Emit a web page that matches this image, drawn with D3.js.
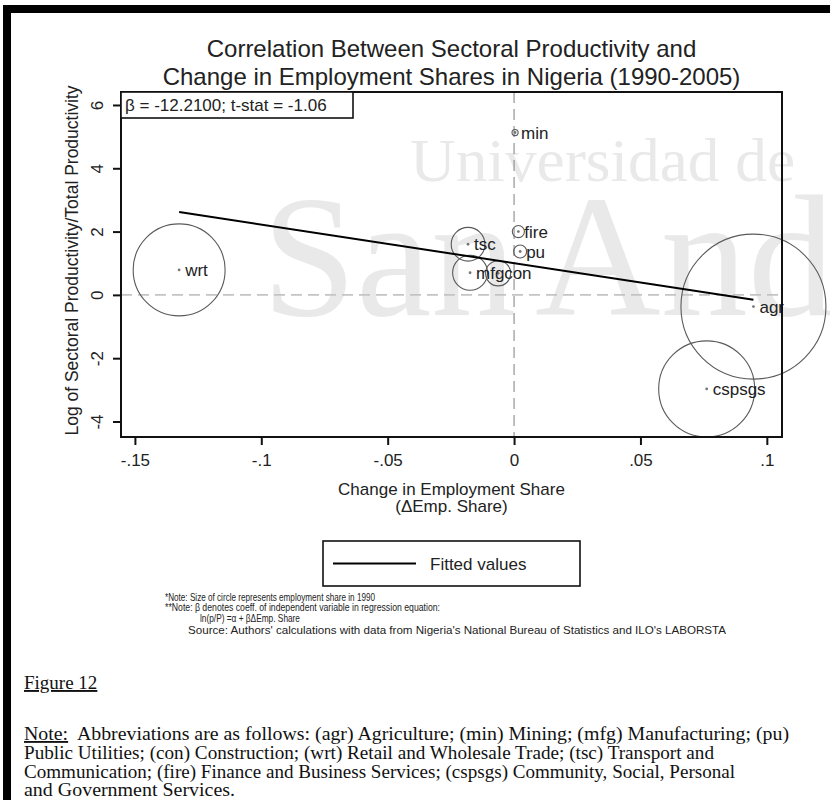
<!DOCTYPE html>
<html><head><meta charset="utf-8">
<script src="https://cdn.jsdelivr.net/npm/d3@7"></script>
<style>body{margin:0;background:#fff}svg{display:block}</style>
</head><body>
<script>
// ---- data ----
const sectors = ["agr","min","mfg","pu","con","wrt","tsc","fire","cspsgs"];
const empChange = [0.0947, 0.0004, -0.0174, 0.0024, -0.0063, -0.1325, -0.0182, 0.0017, 0.0762];
const logProd = [-0.37, 5.13, 0.70, 1.37, 0.68, 0.79, 1.60, 2.00, -2.97];
const empShare1990 = [0.500, 0.0009, 0.029, 0.004, 0.015, 0.201, 0.027, 0.0035, 0.219];
const fitX = [-0.1325, 0.0947];
const fitY = [2.62, -0.155];
const xTicks = [-0.15, -0.1, -0.05, 0, 0.05, 0.1];
const xTickLabels = ["-.15", "-.1", "-.05", "0", ".05", ".1"];
const yTicks = [-4, -2, 0, 2, 4, 6];
const yTickLabels = ["-4", "-2", "0", "2", "4", "6"];
const titleLines = ["Correlation Between Sectoral Productivity and", "Change in Employment Shares in Nigeria (1990-2005)"];
const statText = "β = -12.2100; t-stat = -1.06";
const xTitleLines = ["Change in Employment Share", "(ΔEmp. Share)"];
const yTitle = "Log of Sectoral Productivity/Total Productivity";
const legendLabel = "Fitted values";
const noteLines = [
  "*Note: Size of circle represents employment share in 1990",
  "**Note: β denotes coeff. of independent variable in regression equation:",
  "ln(p/P) =α + βΔEmp. Share",
  "Source: Authors' calculations with data from Nigeria's National Bureau of Statistics and ILO's LABORSTA"
];
const figureLabel = "Figure 12";
const bodyLines = [
  ["Note:", "  Abbreviations are as follows: (agr) Agriculture; (min) Mining; (mfg) Manufacturing; (pu)"],
  ["", "Public Utilities; (con) Construction; (wrt) Retail and Wholesale Trade; (tsc) Transport and"],
  ["", "Communication; (fire) Finance and Business Services; (cspsgs) Community, Social, Personal"],
  ["", "and Government Services."]
];
const watermark = ["Universidad de", "San", "Andrés"];

const data = sectors.map((s, i) => ({name: s, x: empChange[i], y: logProd[i], w: empShare1990[i]}));

const W = 830, H = 800;
const svg = d3.select("body").append("svg").attr("width", W).attr("height", H);
const SANS = "'Liberation Sans', Arial, sans-serif";
const SERIF = "'Liberation Serif', 'Times New Roman', serif";
const TXT = "#222";

// watermark
const wm = svg.append("g").attr("fill", "#e9e9e9").attr("font-family", SERIF);
wm.append("text").attr("x", 410).attr("y", 181).attr("font-size", 61)
  .attr("textLength", 385).attr("lengthAdjust", "spacingAndGlyphs").text(watermark[0]);
wm.append("text").attr("x", 262).attr("y", 315).attr("font-size", 174)
  .attr("textLength", 254).attr("lengthAdjust", "spacingAndGlyphs").text(watermark[1]);
wm.append("text").attr("x", 535).attr("y", 315).attr("font-size", 174).text(watermark[2]);

// page border
svg.append("rect").attr("x", 3).attr("y", 5).attr("width", W - 3).attr("height", 8).attr("fill", "#000");
svg.append("rect").attr("x", 3).attr("y", 5).attr("width", 8).attr("height", H - 5).attr("fill", "#000");

const L = 121, R = 782, T = 92, B = 437;
const x = d3.scaleLinear().domain([-0.1555, 0.106]).range([L, R]);
const y = d3.scaleLinear().domain([-4.49, 6.41]).range([B, T]);
const r = d3.scaleSqrt().domain([0, 0.5]).range([0, 72.5]);

// reference lines
svg.append("line").attr("x1", L).attr("x2", R).attr("y1", y(0)).attr("y2", y(0))
  .attr("stroke", "#c4c4c4").attr("stroke-width", 1.8).attr("stroke-dasharray", "11,6");
svg.append("line").attr("x1", x(0)).attr("x2", x(0)).attr("y1", T).attr("y2", B)
  .attr("stroke", "#8a8a8a").attr("stroke-width", 1.1).attr("stroke-dasharray", "11,6");

// circles
const pts = svg.append("g");
pts.selectAll("circle.w").data(data).join("circle")
  .attr("cx", d => x(d.x)).attr("cy", d => y(d.y)).attr("r", d => r(d.w))
  .attr("fill", "none").attr("stroke", "#5a5a5a").attr("stroke-width", 1.1);
pts.selectAll("circle.d").data(data).join("circle")
  .attr("cx", d => x(d.x)).attr("cy", d => y(d.y)).attr("r", 1.4).attr("fill", "#777");
pts.selectAll("text").data(data).join("text")
  .attr("x", d => x(d.x) + 6).attr("y", d => y(d.y) + 6)
  .attr("font-family", SANS).attr("font-size", 17).attr("fill", TXT).text(d => d.name);

// fitted line
const fit = fitX.map((v, i) => [v, fitY[i]]);
svg.append("path").attr("d", d3.line().x(d => x(d[0])).y(d => y(d[1]))(fit))
  .attr("stroke", "#000").attr("stroke-width", 2).attr("fill", "none");

// frame
svg.append("rect").attr("x", L).attr("y", T).attr("width", R - L).attr("height", B - T)
  .attr("fill", "none").attr("stroke", "#111").attr("stroke-width", 2);

// axes
const xAxis = d3.axisBottom(x).tickValues(xTicks).tickFormat((d, i) => xTickLabels[i]).tickSize(8).tickPadding(9);
const gx = svg.append("g").attr("transform", `translate(0,${B})`).call(xAxis);
gx.select(".domain").remove();
gx.selectAll("line").attr("stroke", "#111").attr("stroke-width", 2);
gx.selectAll("text").attr("font-family", SANS).attr("font-size", 17).attr("fill", TXT);

const yAxis = d3.axisLeft(y).tickValues(yTicks).tickFormat((d, i) => yTickLabels[i]).tickSize(8).tickPadding(6);
const gy = svg.append("g").attr("transform", `translate(${L},0)`).call(yAxis);
gy.select(".domain").remove();
gy.selectAll("line").attr("stroke", "#111").attr("stroke-width", 2);
gy.selectAll("text").attr("font-family", SANS).attr("font-size", 17).attr("fill", TXT)
  .attr("text-anchor", "middle").attr("x", null).attr("dy", null)
  .attr("transform", "translate(-18,0) rotate(-90)")
  .attr("y", 0);

// stat box
svg.append("rect").attr("x", L).attr("y", T).attr("width", 232).attr("height", 26)
  .attr("fill", "#fff").attr("stroke", "#111").attr("stroke-width", 1.6);
svg.append("text").attr("x", L + 4).attr("y", T + 19).attr("font-family", SANS).attr("font-size", 17)
  .attr("fill", TXT).text(statText);

// title
svg.selectAll("text.title").data(titleLines).join("text").attr("class", "title")
  .attr("x", (L + R) / 2).attr("y", (d, i) => 57 + i * 28).attr("text-anchor", "middle")
  .attr("font-family", SANS).attr("font-size", 24).attr("fill", TXT).text(d => d);

// axis titles
svg.selectAll("text.xt").data(xTitleLines).join("text").attr("class", "xt")
  .attr("x", (L + R) / 2).attr("y", (d, i) => 495 + i * 17).attr("text-anchor", "middle")
  .attr("font-family", SANS).attr("font-size", 17).attr("fill", TXT).text(d => d);
svg.append("text").attr("transform", `translate(78,${(T + B) / 2 - 4}) rotate(-90)`).attr("text-anchor", "middle")
  .attr("font-family", SANS).attr("font-size", 17.5).attr("fill", TXT).text(yTitle);

// legend
svg.append("rect").attr("x", 323).attr("y", 541).attr("width", 257).attr("height", 45)
  .attr("fill", "#fff").attr("stroke", "#111").attr("stroke-width", 1.6);
svg.append("line").attr("x1", 333).attr("x2", 416).attr("y1", 563.5).attr("y2", 563.5)
  .attr("stroke", "#000").attr("stroke-width", 2);
svg.append("text").attr("x", 430).attr("y", 569.5).attr("font-family", SANS).attr("font-size", 17)
  .attr("fill", TXT).text(legendLabel);

// notes
const noteX = [165, 165, 200, 188], noteY = [601, 611, 622, 634], noteLen = [210, 275, 100, 538];
noteLines.forEach((t, i) => {
  svg.append("text").attr("x", noteX[i]).attr("y", noteY[i]).attr("font-family", SANS)
    .attr("font-size", 11).attr("fill", TXT).attr("textLength", noteLen[i])
    .attr("lengthAdjust", "spacingAndGlyphs").text(t);
});

// body text
svg.append("text").attr("x", 24).attr("y", 689).attr("font-family", SERIF).attr("font-size", 19)
  .attr("fill", "#111").attr("text-decoration", "underline").text(figureLabel);
const bodyLen = [765, 690, 711, 211];
bodyLines.forEach((ln, i) => {
  const t = svg.append("text").attr("x", 24).attr("y", 740 + i * 18.8).attr("font-family", SERIF)
    .attr("font-size", 18.5).attr("fill", "#111").attr("xml:space", "preserve").style("white-space", "pre")
    .attr("textLength", bodyLen[i]).attr("lengthAdjust", "spacingAndGlyphs");
  if (ln[0]) t.append("tspan").attr("text-decoration", "underline").text(ln[0]);
  t.append("tspan").text(ln[1]);
});
</script>
</body></html>
